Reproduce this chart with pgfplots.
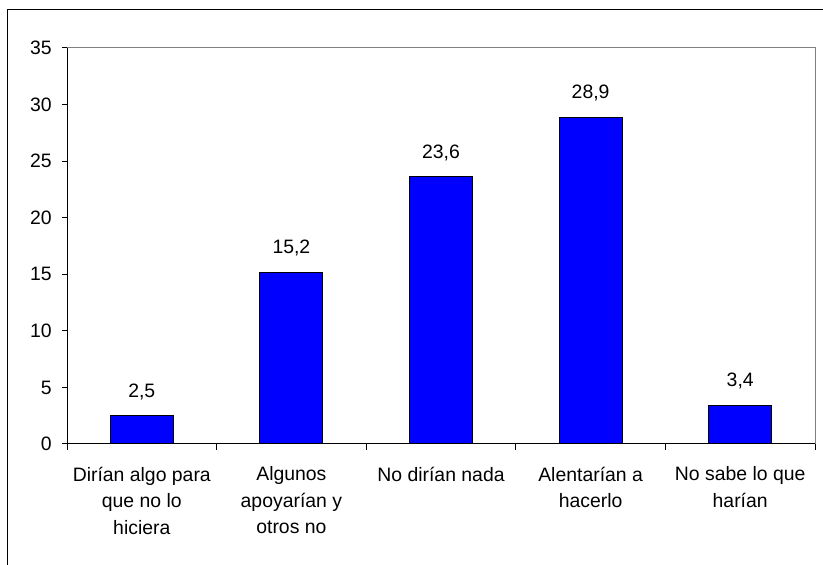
\documentclass[border=0pt]{standalone}
\usepackage{pgfplots}
\pgfplotsset{compat=1.18}
\usepackage{fontspec}
\setmainfont{Liberation Sans}
\definecolor{barblue}{RGB}{0,0,255}
\definecolor{framegray}{RGB}{128,128,128}
\begin{document}
\begin{tikzpicture}
\path[use as bounding box] (0,0) rectangle (411.5pt,282.5pt);
% outer chart frame (cut at right and bottom)
\draw[black, line width=0.5pt] (3.5pt,0pt) -- (3.5pt,277.5pt) -- (411.5pt,277.5pt);
\begin{axis}[
  at={(33.5pt,60.5pt)}, anchor=south west,
  scale only axis, width=374pt, height=198pt,
  xmin=-0.5, xmax=4.5, ymin=0, ymax=35,
  ytick={0,5,...,35},
  xtick={0,1,2,3,4},
  xticklabels={{Dirían algo para\\que no lo\\hiciera},{Algunos\\apoyarían y\\otros no},{No dirían nada},{Alentarían a\\hacerlo},{No sabe lo que\\harían}},
  minor xtick={-0.5,0.5,...,4.5},
  axis x line*=bottom, axis y line*=left,
  axis line style={black, line width=0.5pt},
  tick align=outside,
  major tick length=2.5pt, minor tick length=3pt,
  tick style={black, line width=0.5pt},
  major x tick style={draw=none},
  /pgf/number format/assume math mode=true,
  ticklabel style={font=\fontsize{9.7}{13.25}\selectfont},
  xticklabel style={align=center, anchor=north, inner sep=0pt, yshift=-8.7pt},
  yticklabel style={anchor=east, inner sep=0pt, xshift=-5pt},
  ybar, bar width=31.5pt,
  nodes near coords,
  nodes near coords style={font=\fontsize{9.7}{13.25}\selectfont, anchor=base, inner sep=0pt, yshift=9.3pt,
    /pgf/number format/.cd, fixed, fixed zerofill, precision=1, use comma, assume math mode=true},
  clip=false,
]
\addplot[fill=barblue, draw=black, line width=0.5pt] coordinates {(0,2.5) (1,15.2) (2,23.6) (3,28.9) (4,3.4)};
\draw[framegray, line width=0.5pt] (rel axis cs:0,1) -- (rel axis cs:1,1) -- (rel axis cs:1,0);
\end{axis}
\end{tikzpicture}
\end{document}
